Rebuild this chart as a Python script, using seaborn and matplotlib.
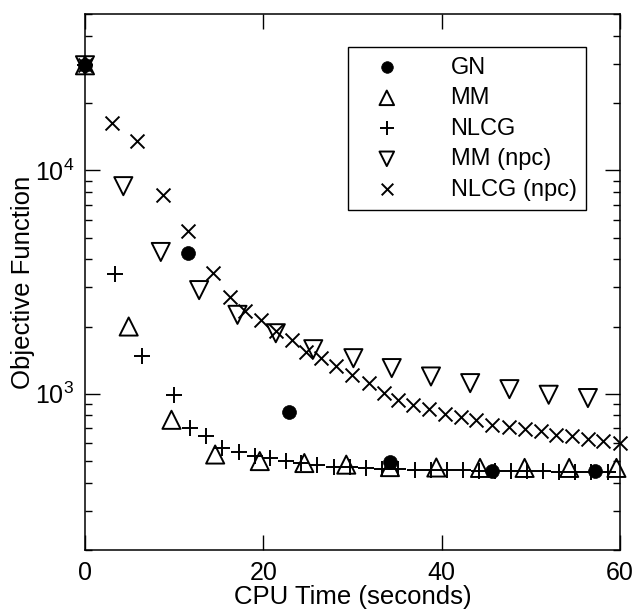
import matplotlib
matplotlib.use("Agg")
import matplotlib.pyplot as plt
import pandas as pd
import seaborn as sns

# CPU time (s) and objective function values
gn_t = [0, 11.5, 22.9, 34.2, 45.7, 57.2]
gn_f = [29500, 4250, 830, 495, 450, 450]

mm_t = [0, 4.9, 9.7, 14.6, 19.6, 24.6, 29.3, 34.2, 39.4, 44.3, 49.3, 54.3, 59.6]
mm_f = [29500, 2000, 765, 535, 500, 490, 482, 470, 468, 466, 466, 466, 466]

nlcg_t = [0, 3.4, 6.4, 10.0, 11.8, 13.6, 15.4, 17.3, 19.1, 20.7, 22.5, 24.2, 26.0,
          27.9, 29.7, 31.5, 33.3, 35.1, 37.0, 38.8, 40.6, 42.4, 44.2, 46.0, 47.8,
          49.6, 51.4, 53.2, 55.0, 56.8, 58.7]
nlcg_f = [29500, 3430, 1470, 990, 705, 650, 572, 547, 528, 516, 500, 488, 478,
          472, 468, 465, 462, 460, 458, 457, 455, 454, 453, 452, 451,
          450, 450, 449, 449, 448, 448]

mm_npc_t = [0, 4.3, 8.5, 12.8, 17.1, 21.4, 25.6, 30.1, 34.4, 38.8, 43.2, 47.6, 52.0, 56.4]
mm_npc_f = [29500, 8490, 4310, 2910, 2255, 1866, 1583, 1443, 1303, 1195, 1116, 1049, 990, 957]

nlcg_npc_t = [0, 3.0, 5.8, 8.7, 11.5, 14.4, 16.3, 18.0, 19.7, 21.4, 23.2, 24.8, 26.5,
              28.1, 29.9, 31.8, 33.5, 35.1, 36.8, 38.6, 40.4, 42.2, 43.9, 45.7, 47.6,
              49.3, 51.1, 52.8, 54.6, 56.4, 58.1, 60.0]
nlcg_npc_f = [29500, 16260, 13520, 7780, 5360, 3480, 2720, 2350, 2140, 1900, 1740, 1545, 1443,
              1325, 1216, 1116, 1007, 940, 893, 855, 815, 788, 763, 728, 710,
              695, 679, 656, 645, 629, 613, 603]

sns.set_style("ticks")
plt.rcParams["font.family"] = ["Liberation Sans", "DejaVu Sans"]
plt.rcParams["mathtext.fontset"] = "custom"
plt.rcParams["mathtext.rm"] = "Liberation Sans"
for key in ["text.color", "axes.labelcolor", "xtick.color", "ytick.color", "axes.edgecolor"]:
    plt.rcParams[key] = "black"

fig = plt.figure(figsize=(6.38, 6.11), dpi=100)
ax = fig.add_axes([0.1332, 0.0998, 0.8386, 0.8772])

series = [
    ("GN", gn_t, gn_f, dict(marker="o", s=100, facecolors="black", edgecolors="black", linewidths=0.5)),
    ("MM", mm_t, mm_f, dict(marker="^", s=170, facecolors="none", edgecolors="black", linewidths=1.4)),
    ("NLCG", nlcg_t, nlcg_f, dict(marker="+", s=140, color="black", linewidths=1.4)),
    ("MM (npc)", mm_npc_t, mm_npc_f, dict(marker="v", s=170, facecolors="none", edgecolors="black", linewidths=1.4)),
    ("NLCG (npc)", nlcg_npc_t, nlcg_npc_f, dict(marker="x", s=100, color="black", linewidths=1.4)),
]

for name, t, f, style in series:
    df = pd.DataFrame({"time": t, "objective": f})
    sns.scatterplot(data=df, x="time", y="objective", ax=ax, label=name,
                    clip_on=False, zorder=3, **style)

ax.set_yscale("log")
ax.set_xlim(0, 60)
ax.set_ylim(200, 50000)
ax.set_xticks([0, 20, 40, 60])

ax.tick_params(which="both", direction="in", top=True, right=True, width=1.0, labelsize=18, pad=8)
ax.tick_params(which="major", length=11)
ax.tick_params(which="minor", length=5)
for sp in ax.spines.values():
    sp.set_linewidth(1.1)

ax.set_xlabel("CPU Time (seconds)", fontsize=18.5)
ax.set_ylabel("Objective Function", fontsize=18.5)
ax.xaxis.set_label_coords(0.5, -0.066)
ax.yaxis.set_label_coords(-0.093, 0.5)

leg = ax.legend(loc="upper right", bbox_to_anchor=(0.9364, 0.9384), borderaxespad=0,
                fontsize=17, frameon=True, fancybox=False, edgecolor="black",
                labelspacing=0.36, handletextpad=1.45, borderpad=0.4, handlelength=2.5)
leg.get_frame().set_linewidth(1.0)
leg.get_frame().set_alpha(1)
for h, size in zip(leg.legend_handles, [70, 110, 110, 110, 70]):
    h.set_sizes([size])

fig.savefig("out.png", dpi=100)
